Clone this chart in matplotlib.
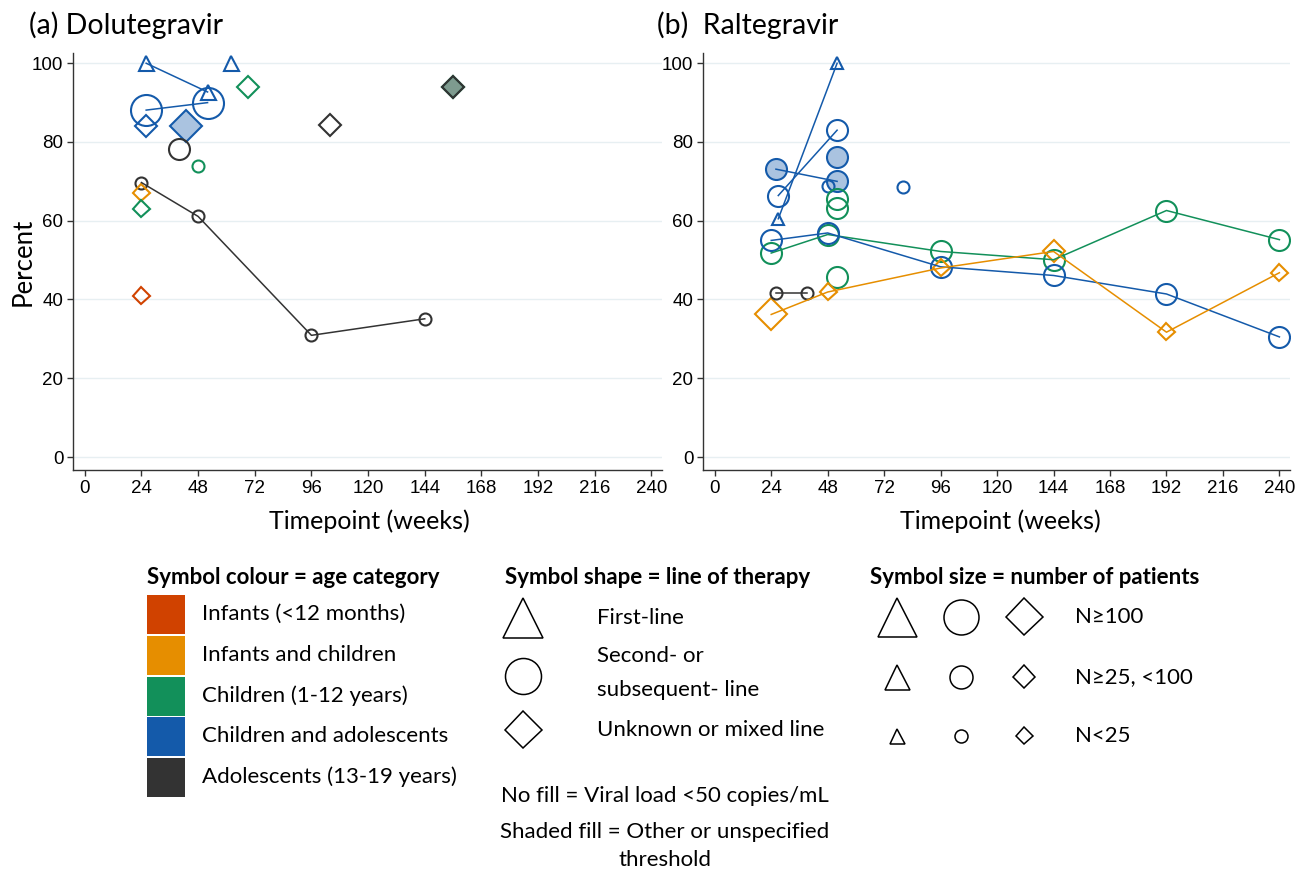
import matplotlib
matplotlib.use("Agg")
import matplotlib.pyplot as plt
from matplotlib.patches import Rectangle
import numpy as np

# ---------------- data ----------------
age_names = ["Infants (<12 months)", "Infants and children", "Children (1-12 years)",
             "Children and adolescents", "Adolescents (13-19 years)"]
age_colors = ["#D04200", "#E68E00", "#12905A", "#145AAA", "#333333"]

x_ticks = [0, 24, 48, 72, 96, 120, 144, 168, 192, 216, 240]
y_ticks = [0, 20, 40, 60, 80, 100]

# Panel (a) Dolutegravir
# age index: 0 infants,1 inf+child,2 children,3 child+adol,4 adolescents
# line: T first-line, C second/subsequent, D unknown/mixed ; size: L/M/S ; shaded 0/1 ; series id (-1 none)
dtg_week   = [26, 52, 62, 26, 52, 26, 43, 69, 104, 40, 48, 24, 48, 96, 144, 24, 24, 24, 156, 156]
dtg_pct    = [100, 92.7, 100, 88.1, 90.0, 84.1, 84.1, 94.0, 84.3, 78.2, 73.9, 69.7, 61.1, 30.9, 35.1, 67.0, 63.0, 41.0, 94.0, 94.0]
dtg_age    = [3, 3, 3, 3, 3, 3, 3, 2, 4, 4, 2, 4, 4, 4, 4, 1, 2, 0, 2, 4]
dtg_line   = ["T", "T", "T", "C", "C", "D", "D", "D", "D", "C", "C", "C", "C", "C", "C", "D", "D", "D", "D", "D"]
dtg_size   = ["M", "M", "M", "L", "L", "M", "L", "M", "M", "M", "S", "S", "S", "S", "S", "S", "S", "S", "M", "M"]
dtg_shaded = [0, 0, 0, 0, 0, 0, 1, 0, 0, 0, 0, 0, 0, 0, 0, 0, 0, 0, 1, 1]
dtg_series = [1, 1, -1, 2, 2, -1, -1, -1, -1, -1, -1, 3, 3, 3, 3, -1, -1, -1, -1, -1]

# Panel (b) Raltegravir
ral_week   = [27, 52, 27, 52, 26, 52, 52, 48, 80, 52, 52, 52,
              24, 48, 96, 144, 192, 240,
              24, 48, 96, 144, 192, 240,
              24, 48, 96, 144, 192, 240,
              26, 39]
ral_pct    = [60.5, 100, 66.4, 83.0, 73.1, 70.0, 76.1, 68.9, 68.5, 65.5, 63.2, 45.7,
              51.8, 56.5, 52.2, 50.1, 62.6, 55.2,
              55.0, 56.9, 48.3, 46.1, 41.4, 30.5,
              36.2, 41.9, 48.0, 52.2, 31.7, 46.8,
              41.7, 41.7]
ral_age    = [3, 3, 3, 3, 3, 3, 3, 3, 3, 2, 2, 2,
              2, 2, 2, 2, 2, 2,
              3, 3, 3, 3, 3, 3,
              1, 1, 1, 1, 1, 1,
              4, 4]
ral_line   = ["T", "T", "C", "C", "C", "C", "C", "C", "C", "C", "C", "C",
              "C", "C", "C", "C", "C", "C",
              "C", "C", "C", "C", "C", "C",
              "D", "D", "D", "D", "D", "D",
              "C", "C"]
ral_size   = ["S", "S", "M", "M", "M", "M", "M", "S", "S", "M", "M", "M",
              "M", "M", "M", "M", "M", "M",
              "M", "M", "M", "M", "M", "M",
              "L", "S", "S", "M", "S", "S",
              "S", "S"]
ral_shaded = [0, 0, 0, 0, 1, 1, 1, 0, 0, 0, 0, 0,
              0, 0, 0, 0, 0, 0,
              0, 0, 0, 0, 0, 0,
              0, 0, 0, 0, 0, 0,
              0, 0]
ral_series = [1, 1, 2, 2, 3, 3, -1, -1, -1, -1, -1, -1,
              4, 4, 4, 4, 4, 4,
              5, 5, 5, 5, 5, 5,
              6, 6, 6, 6, 6, 6,
              7, 7]

# ---------------- styling ----------------
W, H, DPI = 1295, 872, 100
PT = 72.0 / DPI
PX = {"C": {"L": 31, "M": 21, "S": 12},
      "D": {"L": 32, "M": 22, "S": 17},
      "T": {"L": 24, "M": 15, "S": 12}}
MK = {"C": "o", "D": "D", "T": "^"}

def msize(shape, px):
    if shape == "D":
        return px / np.sqrt(2) * PT
    return px * PT

TXT = ["Lato", "DejaVu Sans"]
NUM = ["Liberation Sans", "DejaVu Sans"]

fig = plt.figure(figsize=(W / DPI, H / DPI), dpi=DPI)

def fx(px):
    return px / W

def fy(py):
    return 1 - py / H

def draw_panel(ax, week, pct, age, line, size, shaded, series):
    ax.set_xlim(-5, 244.5)
    ax.set_ylim(-3.3, 102.6)
    for y in y_ticks:
        ax.axhline(y, color="#E7EFF2", lw=1.0, zorder=0)
    ids = sorted(set(s for s in series if s >= 0))
    for sid in ids:
        idx = [i for i, s in enumerate(series) if s == sid]
        idx.sort(key=lambda i: week[i])
        ax.plot([week[i] for i in idx], [pct[i] for i in idx],
                color=age_colors[age[idx[0]]], lw=1.1, zorder=4)
    for i in range(len(week)):
        c = age_colors[age[i]]
        fc = "none"
        if shaded[i]:
            rgb = matplotlib.colors.to_rgb(c)
            fc = (rgb[0], rgb[1], rgb[2], 0.36)
        ax.plot(week[i], pct[i], marker=MK[line[i]],
                ms=msize(line[i], PX[line[i]][size[i]]),
                mfc=fc, mec=c, mew=1.5, ls="none", zorder=3)
    for s in ["top", "right"]:
        ax.spines[s].set_visible(False)
    for s in ["left", "bottom"]:
        ax.spines[s].set_color("#333333")
        ax.spines[s].set_linewidth(1.0)
    ax.set_xticks(x_ticks)
    ax.set_yticks(y_ticks)
    ax.tick_params(direction="out", length=4, width=1.0, color="#333333",
                   labelsize=13.5, pad=3)
    for lab in ax.get_xticklabels() + ax.get_yticklabels():
        lab.set_family(NUM)
    ax.set_facecolor("white")

ax1 = fig.add_axes([fx(73), fy(470), fx(662 - 73), (470 - 53) / H])
ax2 = fig.add_axes([fx(703), fy(470), fx(1290 - 703), (470 - 53) / H])
draw_panel(ax1, dtg_week, dtg_pct, dtg_age, dtg_line, dtg_size, dtg_shaded, dtg_series)
draw_panel(ax2, ral_week, ral_pct, ral_age, ral_line, ral_size, ral_shaded, ral_series)

fig.text(fx(29), fy(25), "(a) Dolutegravir", family=TXT, fontsize=20.5, ha="left", va="center")
fig.text(fx(657), fy(25), "(b)  Raltegravir", family=TXT, fontsize=20.5, ha="left", va="center")
fig.text(fx(369), fy(521), "Timepoint (weeks)", family=TXT, fontsize=18, ha="center", va="center")
fig.text(fx(1000), fy(521), "Timepoint (weeks)", family=TXT, fontsize=18, ha="center", va="center")
fig.text(fx(23), fy(262), "Percent", family=TXT, fontsize=18.5, ha="center", va="center", rotation=90)

# ---------------- legend ----------------
lg = fig.add_axes([0, 0, 1, 1])
lg.set_xlim(0, W)
lg.set_ylim(H, 0)
lg.axis("off")

LFS = 16
lg.text(147, 577, "Symbol colour = age category", family=TXT, fontsize=LFS, fontweight="bold",
        ha="left", va="center")
sw_top = [595, 636, 677, 717, 758]
for k, (nm, c) in enumerate(zip(age_names, age_colors)):
    lg.add_patch(Rectangle((147, sw_top[k]), 38, 39, facecolor=c, edgecolor="none"))
    lg.text(202, sw_top[k] + 19, nm, family=TXT, fontsize=LFS, ha="left", va="center")

lg.text(505, 577, "Symbol shape = line of therapy", family=TXT, fontsize=LFS, fontweight="bold",
        ha="left", va="center")
shape_rows = [("T", 618, 40), ("C", 676, 36), ("D", 730, 37)]
for shp, yy, px in shape_rows:
    lg.plot(523, yy, marker=MK[shp], ms=msize(shp, px), mfc="none", mec="black", mew=1.1, ls="none")
lg.text(597, 618, "First-line", family=TXT, fontsize=LFS, ha="left", va="center")
lg.text(597, 656, "Second- or", family=TXT, fontsize=LFS, ha="left", va="center")
lg.text(597, 690, "subsequent- line", family=TXT, fontsize=LFS, ha="left", va="center")
lg.text(597, 730, "Unknown or mixed line", family=TXT, fontsize=LFS, ha="left", va="center")
lg.text(665, 796, "No fill = Viral load <50 copies/mL", family=TXT, fontsize=LFS, ha="center", va="center")
lg.text(665, 832, "Shaded fill = Other or unspecified", family=TXT, fontsize=LFS, ha="center", va="center")
lg.text(665, 860, "threshold", family=TXT, fontsize=LFS, ha="center", va="center")

lg.text(870, 577, "Symbol size = number of patients", family=TXT, fontsize=LFS, fontweight="bold",
        ha="left", va="center")
size_rows = [(617, {"T": 39, "C": 35, "D": 37}, "N≥100"),
             (677, {"T": 25, "C": 23, "D": 23}, "N≥25, <100"),
             (736, {"T": 15, "C": 13, "D": 17}, "N<25")]
for yy, pxs, lab in size_rows:
    for shp, xx in [("T", 897), ("C", 961), ("D", 1024)]:
        lg.plot(xx, yy, marker=MK[shp], ms=msize(shp, pxs[shp]), mfc="none", mec="black",
                mew=1.1, ls="none")
    lg.text(1075, yy, lab, family=TXT, fontsize=LFS, ha="left", va="center")

fig.savefig("out.png", dpi=DPI, facecolor="white")
